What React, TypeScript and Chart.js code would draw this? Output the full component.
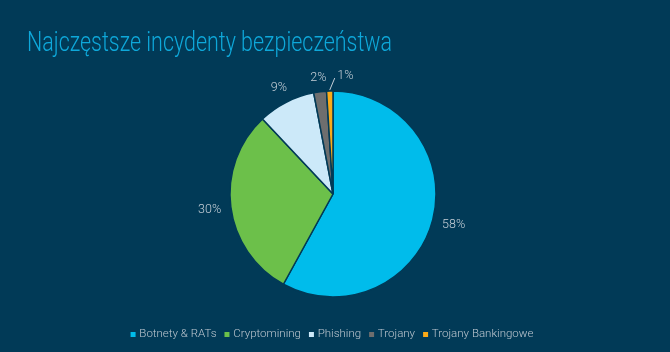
import React, { useEffect, useRef } from 'react';
import { Chart, registerables } from 'chart.js';
Chart.register(...registerables);

const chartTitle = 'Najczęstsze incydenty bezpieczeństwa';
const categories = ['Botnety & RATs', 'Cryptomining', 'Phishing', 'Trojany', 'Trojany Bankingowe'];
const values = [58, 30, 9, 2, 1];
const colors = ['#00BCEB', '#6CC04A', '#CCE9F9', '#6E6E6E', '#FBAB18'];

const BG = '#013A57';
const TITLE_COLOR = '#0EA8DA';
const LABEL_COLOR = '#C6CFD7';
const LEGEND_COLOR = '#BCC6CF';

const bgTitlePlugin = {
  id: 'bgTitle',
  beforeDraw(chart: any) {
    const ctx = chart.ctx as CanvasRenderingContext2D;
    ctx.save();
    ctx.fillStyle = BG;
    ctx.fillRect(0, 0, chart.width, chart.height);
    ctx.font = '300 27px Roboto';
    const w = ctx.measureText(chartTitle).width;
    const sx = 365 / w;
    ctx.translate(27, 50.5);
    ctx.scale(sx, 1);
    ctx.fillStyle = TITLE_COLOR;
    ctx.textAlign = 'left';
    ctx.textBaseline = 'alphabetic';
    ctx.fillText(chartTitle, 0, 0);
    ctx.restore();
  },
};

const outLabelsPlugin = {
  id: 'outLabels',
  afterDatasetsDraw(chart: any) {
    const ctx = chart.ctx as CanvasRenderingContext2D;
    const meta = chart.getDatasetMeta(0);
    const data = chart.data.datasets[0].data as number[];
    const total = data.reduce((a, b) => a + b, 0);
    ctx.save();
    ctx.font = '300 12.5px Roboto';
    ctx.fillStyle = LABEL_COLOR;
    ctx.strokeStyle = LABEL_COLOR;
    ctx.lineWidth = 1;
    meta.data.forEach((arc: any, i: number) => {
      const p = arc.getProps(['x', 'y', 'startAngle', 'endAngle', 'outerRadius'], true);
      const mid = (p.startAngle + p.endAngle) / 2;
      const dx = Math.cos(mid);
      const dy = Math.sin(mid);
      const share = data[i] / total;
      const txt = Math.round(share * 100) + '%';
      const w = ctx.measureText(txt).width;
      const h = 7;
      if (share < 0.015) {
        const sx = p.x + dx * (p.outerRadius + 1);
        const sy = p.y + dy * (p.outerRadius + 1);
        const ex = sx + 5;
        const ey = sy - 12;
        ctx.beginPath();
        ctx.moveTo(sx, sy);
        ctx.lineTo(ex, ey);
        ctx.stroke();
        ctx.textAlign = 'left';
        ctx.textBaseline = 'middle';
        ctx.fillText(txt, ex + 2.5, ey - 2.5);
      } else {
        const gap = 9.5;
        const off = p.outerRadius + gap + Math.abs(dx) * w / 2 + Math.abs(dy) * h / 2;
        ctx.textAlign = 'center';
        ctx.textBaseline = 'middle';
        ctx.fillText(txt, p.x + dx * off, p.y + dy * off);
      }
    });
    ctx.restore();
  },
};

export default function App() {
  const ref = useRef<HTMLCanvasElement>(null);
  useEffect(() => {
    document.body.style.margin = '0';
    document.body.style.background = BG;
    const chart = new Chart(ref.current as HTMLCanvasElement, {
      type: 'pie',
      data: {
        labels: categories,
        datasets: [
          {
            data: values,
            backgroundColor: colors,
            borderColor: BG,
            borderWidth: 1.5,
            radius: 103,
          } as any,
        ],
      },
      options: {
        animation: false,
        responsive: false,
        devicePixelRatio: 1,
        layout: { padding: { top: 69.25, bottom: 1.75, left: 0, right: 4 } },
        plugins: {
          tooltip: { enabled: false },
          title: { display: false },
          legend: {
            position: 'bottom',
            labels: {
              usePointStyle: true,
              pointStyle: 'rect',
              boxWidth: 1,
              boxHeight: 5,
              padding: 10,
              color: LEGEND_COLOR,
              font: { family: 'Roboto', size: 11.5, weight: '300' as any },
              generateLabels(ch: any) {
                const items = (Chart as any).overrides.pie.plugins.legend.labels.generateLabels(ch);
                return items.map((it: any) => ({ ...it, lineWidth: 0, strokeStyle: it.fillStyle, pointStyle: 'rect' }));
              },
            },
          },
        },
      },
      plugins: [bgTitlePlugin, outLabelsPlugin],
    });
    return () => chart.destroy();
  }, []);
  return (
    <div style={{ width: 670, height: 352, background: BG }}>
      <canvas ref={ref} width={670} height={352} style={{ display: 'block' }} />
    </div>
  );
}
